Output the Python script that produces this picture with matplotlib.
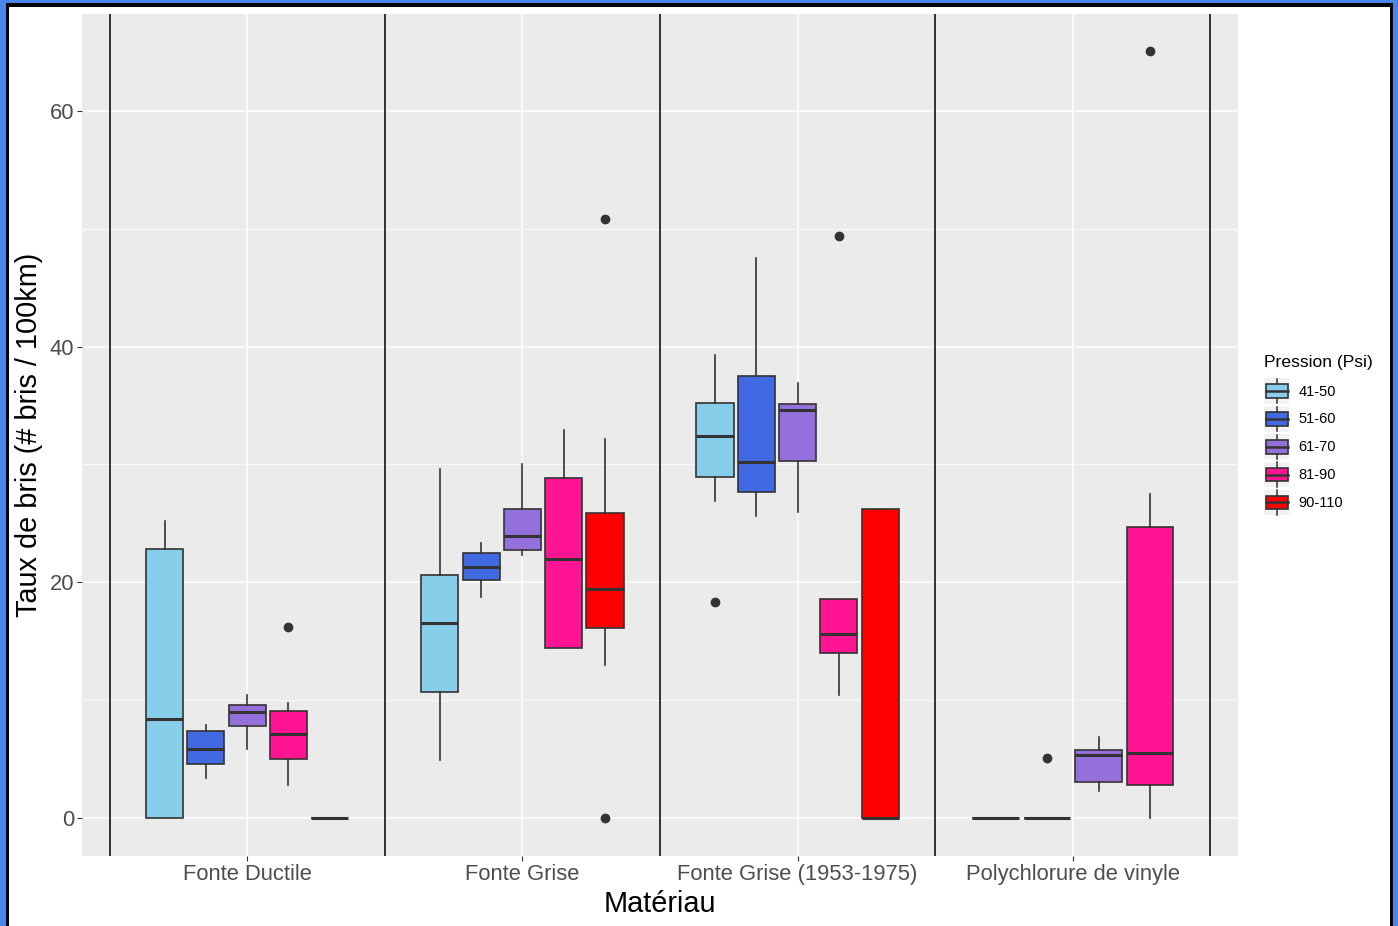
import matplotlib
matplotlib.use("Agg")
import matplotlib.pyplot as plt
from matplotlib.patches import Rectangle
from matplotlib.lines import Line2D
from matplotlib.legend_handler import HandlerBase

plt.rcParams['font.family'] = ['Liberation Sans', 'DejaVu Sans']

# ---------------- data ----------------
materiaux = ["Fonte Ductile", "Fonte Grise", "Fonte Grise (1953-1975)", "Polychlorure de vinyle"]
pressions = ["41-50", "51-60", "61-70", "81-90", "90-110"]
couleurs = ["#87CEEB", "#4169E1", "#9370DB", "#FF1493", "#FF0000"]

# rows: materiau, columns: pression (None = group absent)
whislo = [[0.0, 3.4, 5.8, 2.8, 0.0],
          [4.9, 18.75, 22.3, 14.4, 13.0],
          [26.9, 25.6, 26.0, 10.4, 0.0],
          [0.0, 0.0, 2.3, 0.0, None]]
q1 = [[0.0, 4.6, 7.8, 5.0, 0.0],
      [10.7, 20.2, 22.7, 14.4, 16.1],
      [28.9, 27.7, 30.3, 14.0, 0.0],
      [0.0, 0.0, 3.0, 2.75, None]]
med = [[8.4, 5.8, 8.95, 7.1, 0.0],
       [16.5, 21.25, 23.9, 22.0, 19.4],
       [32.4, 30.2, 34.6, 15.6, 0.0],
       [0.0, 0.0, 5.3, 5.5, None]]
q3 = [[22.8, 7.35, 9.6, 9.1, 0.0],
      [20.6, 22.5, 26.2, 28.85, 25.85],
      [35.2, 37.55, 35.1, 18.6, 26.25],
      [0.0, 0.0, 5.75, 24.7, None]]
whishi = [[25.2, 7.9, 10.4, 9.75, 0.0],
          [29.6, 23.3, 30.0, 32.95, 32.2],
          [39.3, 47.5, 36.9, 18.6, 26.25],
          [0.0, 0.0, 6.85, 27.5, None]]
aberrants = [[[], [], [], [16.2], []],
             [[], [], [], [], [0.0, 50.8]],
             [[18.3], [], [], [49.4], []],
             [[], [5.05], [], [65.1], None]]

# ---------------- figure ----------------
W, H = 1398, 926
fig = plt.figure(figsize=(W / 100, H / 100), dpi=100, facecolor="white")
ax = fig.add_axes([82 / W, 1 - 856 / H, (1238 - 82) / W, (856 - 14) / H])
ax.set_facecolor("#EBEBEB")

edge = "#333333"
for i, mat in enumerate(materiaux):
    present = [j for j in range(len(pressions)) if q1[i][j] is not None]
    n = len(present)
    slot = 0.75 / n
    for k, j in enumerate(present):
        pos = (i + 1) + (k - (n - 1) / 2) * slot
        st = dict(med=med[i][j], q1=q1[i][j], q3=q3[i][j],
                  whislo=whislo[i][j], whishi=whishi[i][j],
                  fliers=aberrants[i][j] or [])
        ax.bxp([st], positions=[pos], widths=[0.9 * slot], patch_artist=True,
               showcaps=False,
               boxprops=dict(facecolor=couleurs[j], edgecolor=edge, linewidth=1.2),
               whiskerprops=dict(color=edge, linewidth=1.2),
               medianprops=dict(color=edge, linewidth=2.2, solid_capstyle="butt"),
               flierprops=dict(marker="o", markerfacecolor=edge, markeredgecolor=edge,
                               markersize=6, linestyle="none"),
               zorder=3)

for xv in [0.5, 1.5, 2.5, 3.5, 4.5]:
    ax.axvline(xv, color="black", linewidth=1.1, zorder=2)

ax.set_xlim(0.4, 4.6)
ax.set_ylim(-3.25, 68.25)
ax.set_xticks(range(1, len(materiaux) + 1))
ax.set_xticklabels(materiaux)
ax.set_yticks([0, 20, 40, 60])
ax.set_yticks([10, 30, 50], minor=True)
ax.grid(which="major", color="white", linewidth=1.1, zorder=0)
ax.grid(which="minor", axis="y", color="white", linewidth=0.55, zorder=0)
ax.set_axisbelow(True)
for s in ax.spines.values():
    s.set_visible(False)
ax.tick_params(axis="both", which="major", length=3.5, width=0.8, color=edge,
               labelcolor="#4D4D4D", labelsize=15.8, pad=2)
ax.tick_params(axis="y", which="minor", length=0)
ax.set_xlabel("Matériau", fontsize=20.8, labelpad=4)
ax.set_ylabel("Taux de bris (# bris / 100km)", fontsize=20.8, labelpad=5)


# ---------------- legend ----------------
class BoxHandler(HandlerBase):
    def create_artists(self, legend, orig_handle, xdescent, ydescent, width, height,
                       fontsize, trans):
        c = orig_handle.get_facecolor()
        x0, y0 = -xdescent, -ydescent
        bg = Rectangle((x0, y0), width, height, facecolor="#F2F2F2", edgecolor="none",
                       transform=trans)
        bx = Rectangle((x0 + width * 0.06, y0 + height * 0.23), width * 0.88, height * 0.54,
                       facecolor=c, edgecolor=edge, linewidth=1.2, transform=trans)
        md = Line2D([x0 + width * 0.06, x0 + width * 0.94], [y0 + height * 0.5] * 2,
                    color=edge, linewidth=1.8, transform=trans)
        w1 = Line2D([x0 + width / 2] * 2, [y0 + height * 0.77, y0 + height * 0.98],
                    color=edge, linewidth=1.1, transform=trans)
        w2 = Line2D([x0 + width / 2] * 2, [y0 + height * 0.02, y0 + height * 0.23],
                    color=edge, linewidth=1.1, transform=trans)
        return [bg, bx, md, w1, w2]


handles = [Rectangle((0, 0), 1, 1, facecolor=c) for c in couleurs]
leg = fig.legend(handles, pressions, loc="upper left",
                 bbox_to_anchor=(1264 / W, 1 - 355 / H),
                 frameon=False, fontsize=10.5, title="Pression (Psi)", title_fontsize=12.6,
                 handler_map={Rectangle: BoxHandler()},
                 handlelength=1.72, handleheight=2.3, labelspacing=0.17,
                 handletextpad=0.65, borderaxespad=0, borderpad=0)
leg._legend_box.align = "left"
leg._legend_box.sep = 6

# ---------------- outer frame ----------------
def px_rect(x0, y0, x1, y1, color):
    fig.patches.append(Rectangle((x0 / W, 1 - y1 / H), (x1 - x0) / W, (y1 - y0) / H,
                                 transform=fig.transFigure, facecolor=color,
                                 edgecolor="none", zorder=10))

blue = "#4A86E8"
px_rect(0, 0, 6, H, blue)
px_rect(0, 0, W, 3, blue)
px_rect(1393, 0, W, H, blue)
px_rect(6, 3, 9, H, "black")
px_rect(6, 3, 1393, 7, "black")
px_rect(1390, 3, 1393, H, "black")

fig.savefig("out.png", dpi=100, facecolor="white")
